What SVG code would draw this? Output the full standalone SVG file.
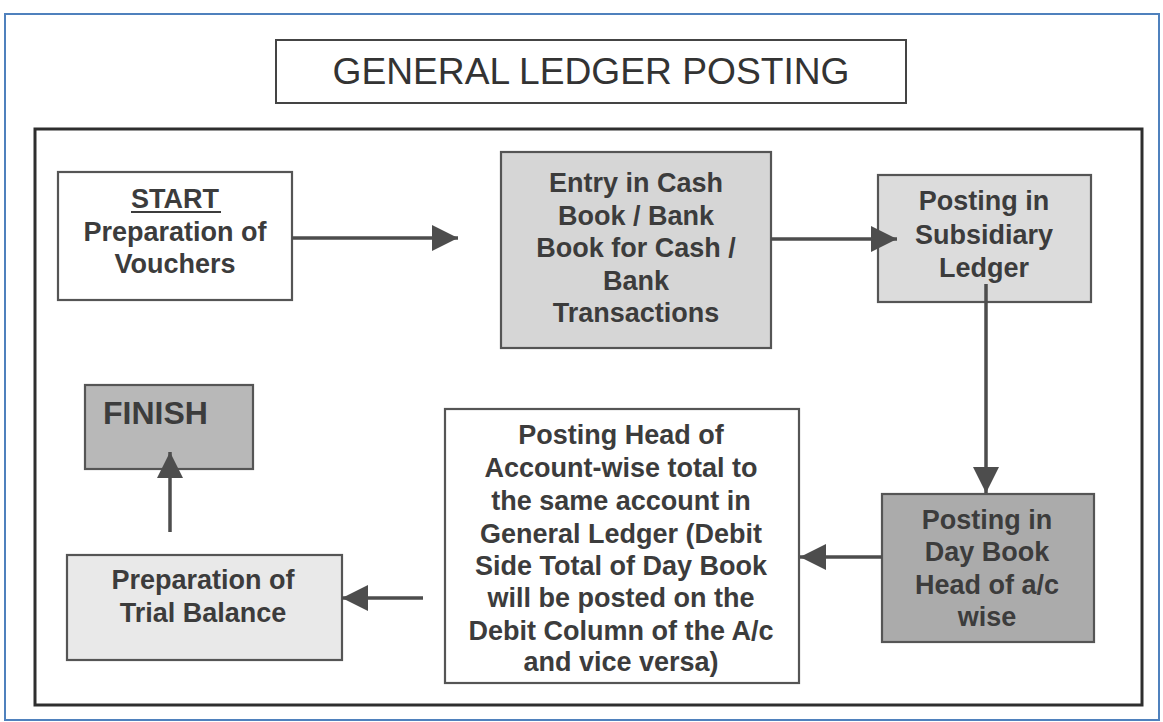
<svg xmlns="http://www.w3.org/2000/svg" width="1163" height="722" viewBox="0 0 1163 722">
<defs>
<marker id="ah" markerUnits="userSpaceOnUse" markerWidth="28" markerHeight="26" refX="26" refY="13" orient="auto">
<path d="M0,0 L26,13 L0,26 Z" fill="#4d4d4d"/>
</marker>
</defs>
<style>
.box{stroke:#555;stroke-width:2.2}
.t{font-family:"Liberation Sans",Arial,sans-serif;font-weight:bold;font-size:27px;fill:#3c3c3c;text-anchor:middle}
.c{stroke:#4d4d4d;stroke-width:3.5;fill:none}
</style>
<rect x="0" y="0" width="1163" height="722" fill="#ffffff"/>
<rect x="5" y="14" width="1154" height="706" fill="#ffffff" stroke="#4f81bd" stroke-width="2"/>
<g id="title">
<rect x="276" y="40" width="630" height="63" fill="#ffffff" stroke="#444" stroke-width="2"/>
<text x="591" y="84" font-family="Liberation Sans,Arial,sans-serif" font-size="37" fill="#333" text-anchor="middle" textLength="517" lengthAdjust="spacingAndGlyphs">GENERAL LEDGER POSTING</text>
</g>
<rect id="frame" x="35" y="129" width="1107" height="576" fill="none" stroke="#2e2e2e" stroke-width="3"/>
<g id="start">
<rect class="box" x="58" y="172" width="234" height="128" fill="#ffffff"/>
<text class="t" x="175" y="208">START</text>
<line x1="131" y1="212" x2="221" y2="212" stroke="#3c3c3c" stroke-width="2"/>
<text class="t" x="175" y="241">Preparation of</text>
<text class="t" x="175" y="273">Vouchers</text>
</g>
<g id="cashbook">
<rect class="box" x="501" y="152" width="270" height="196" fill="#d6d6d6"/>
<text class="t" x="636" y="192">Entry in Cash</text>
<text class="t" x="636" y="225">Book / Bank</text>
<text class="t" x="636" y="257">Book for Cash /</text>
<text class="t" x="636" y="290">Bank</text>
<text class="t" x="636" y="322">Transactions</text>
</g>
<g id="subsidiary">
<rect class="box" x="878" y="175" width="213" height="127" fill="#dcdcdc"/>
<text class="t" x="984" y="210">Posting in</text>
<text class="t" x="984" y="244">Subsidiary</text>
<text class="t" x="984" y="277">Ledger</text>
</g>
<g id="daybook">
<rect class="box" x="882" y="494" width="212" height="148" fill="#ababab"/>
<text class="t" x="987" y="529">Posting in</text>
<text class="t" x="987" y="561">Day Book</text>
<text class="t" x="987" y="594">Head of a/c</text>
<text class="t" x="987" y="626">wise</text>
</g>
<g id="generalledger">
<rect class="box" x="445" y="409" width="354" height="274" fill="#ffffff"/>
<text class="t" x="621" y="444">Posting Head of</text>
<text class="t" x="621" y="477">Account-wise total to</text>
<text class="t" x="621" y="510">the same account in</text>
<text class="t" x="621" y="543">General Ledger (Debit</text>
<text class="t" x="621" y="575">Side Total of Day Book</text>
<text class="t" x="621" y="607">will be posted on the</text>
<text class="t" x="621" y="640">Debit Column of the A/c</text>
<text class="t" x="621" y="671">and vice versa)</text>
</g>
<g id="trialbalance">
<rect class="box" x="67" y="555" width="275" height="105" fill="#e9e9e9"/>
<text class="t" x="203" y="589">Preparation of</text>
<text class="t" x="203" y="622">Trial Balance</text>
</g>
<g id="finish">
<rect class="box" x="85" y="385" width="168" height="84" fill="#b8b8b8"/>
<text class="t" x="103" y="424" style="text-anchor:start;font-size:32px">FINISH</text>
</g>
<g id="connectors">
<line class="c" x1="292" y1="238" x2="458" y2="238" marker-end="url(#ah)"/>
<line class="c" x1="771" y1="239" x2="897" y2="239" marker-end="url(#ah)"/>
<line class="c" x1="986" y1="284" x2="986" y2="493" marker-end="url(#ah)"/>
<line class="c" x1="882" y1="557" x2="800" y2="557" marker-end="url(#ah)"/>
<line class="c" x1="423" y1="598" x2="342" y2="598" marker-end="url(#ah)"/>
<line class="c" x1="170" y1="532" x2="170" y2="452" marker-end="url(#ah)"/>
</g>
</svg>
